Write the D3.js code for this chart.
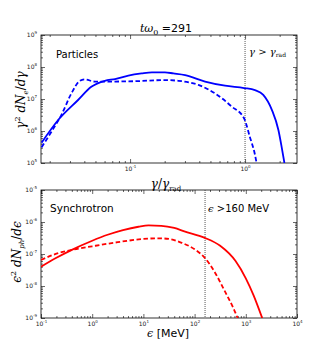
<!DOCTYPE html>
<html>
<head>
<meta charset="utf-8">
<script src="https://cdn.jsdelivr.net/npm/d3@7"></script>
<style>
  body { margin: 0; background: #fff; }
  svg { display: block; }
</style>
</head>
<body>
<svg id="chart" width="330" height="354"></svg>
<script>
// top panel: electron spectra vs gamma/gamma_rad
const gammaSolid = [0.017, 0.0237, 0.0353, 0.046, 0.0603, 0.0741, 0.0966, 0.126, 0.155, 0.201, 0.238, 0.301, 0.449, 0.670, 0.98, 1.22, 1.44, 1.71, 1.95, 2.08, 2.20]
const electronsSolid = [4.3e5, 2.2e6, 9.3e6, 2.4e7, 3.7e7, 4.2e7, 5.4e7, 6.3e7, 6.8e7, 6.8e7, 6.3e7, 5.6e7, 3.5e7, 2.6e7, 2.2e7, 1.9e7, 1.35e7, 4.6e6, 1.07e6, 3.2e5, 1.0e5]
const gammaDashed = [0.017, 0.0207, 0.0253, 0.0309, 0.0366, 0.0404, 0.0493, 0.0568, 0.110, 0.201, 0.263, 0.393, 0.548, 0.766, 0.98, 1.10, 1.22, 1.26]
const electronsDashed = [3.1e5, 9.5e5, 3.2e6, 1.5e7, 3.7e7, 4.1e7, 3.5e7, 3.5e7, 3.6e7, 3.9e7, 3.7e7, 2.75e7, 1.5e7, 5.8e6, 2.5e6, 6.6e5, 1.8e5, 1.0e5]

// bottom panel: synchrotron photon spectra vs energy in MeV
const energySolid = [0.1, 0.2, 0.4, 1, 2, 4, 8, 12.6, 22.4, 40, 63, 158, 316, 631, 1000, 1413, 2090]
const photonsSolid = [4.0e-8, 7.6e-8, 1.35e-7, 2.6e-7, 4.0e-7, 5.6e-7, 7.1e-7, 7.8e-7, 7.6e-7, 6.5e-7, 5.1e-7, 3.2e-7, 1.8e-7, 6.0e-8, 1.74e-8, 5.2e-9, 1.0e-9]
const energyDashed = [0.1, 0.2, 0.4, 1, 3.16, 10, 20, 31.6, 56, 100, 158, 251, 389, 575, 692]
const photonsDashed = [6.5e-8, 1.02e-7, 1.35e-7, 1.74e-7, 2.34e-7, 2.95e-7, 3.1e-7, 2.95e-7, 2.24e-7, 1.41e-7, 7.6e-8, 2.6e-8, 6.9e-9, 2.0e-9, 1.0e-9]

const topXDomain = [0.0168, 2.83]
const topYDomain = [1e5, 1e9]
const botXDomain = [0.1, 1e4]
const botYDomain = [1e-9, 1e-5]
const gammaCut = 1
const energyCut = 160

const svg = d3.select('#chart')
const serif = "'DejaVu Serif', serif"
const sans = "'DejaVu Sans', sans-serif"

const left = 41
const right = 297

// all 1..9 x 10^k values inside a log domain
const logTicks = (domain) => {
  const lo = Math.floor(Math.log10(domain[0]))
  const hi = Math.ceil(Math.log10(domain[1]))
  const major = []
  const minor = []
  for (let k = lo; k <= hi; k++) {
    for (let m = 1; m < 10; m++) {
      const v = m * Math.pow(10, k)
      if (v < domain[0] * 0.999 || v > domain[1] * 1.001) continue
      if (m === 1) major.push(v)
      else minor.push(v)
    }
  }
  return { major, minor }
}

function powLabel (sel, exp) {
  sel.text(null)
  sel.append('tspan').text('10')
  sel.append('tspan')
    .attr('dy', -3)
    .style('font-size', '4px')
    .text(exp)
}

function panel (top, bottom, xDomain, yDomain) {
  const x = d3.scaleLog().domain(xDomain).range([left, right])
  const y = d3.scaleLog().domain(yDomain).range([bottom, top])
  const xt = logTicks(xDomain)
  const yt = logTicks(yDomain)
  const g = svg.append('g')

  const styleTicks = (sel) => {
    sel.select('.domain').remove()
    sel.selectAll('.tick line').style('stroke', '#000').style('stroke-width', 0.6)
  }

  // bottom + top axes, ticks pointing in
  const axB = g.append('g').attr('transform', `translate(0,${bottom})`)
    .call(d3.axisBottom(x).tickValues(xt.major).tickSize(-4).tickPadding(4).tickFormat(d => d))
  axB.call(styleTicks)
  axB.selectAll('.tick text')
    .style('font-family', sans).style('font-size', '6px').style('fill', '#222')
    .each(function (d) { powLabel(d3.select(this), Math.round(Math.log10(d))) })
  g.append('g').attr('transform', `translate(0,${bottom})`)
    .call(d3.axisBottom(x).tickValues(xt.minor).tickSize(-2).tickFormat(''))
    .call(styleTicks)
  g.append('g').attr('transform', `translate(0,${top})`)
    .call(d3.axisTop(x).tickValues(xt.major).tickSize(-4).tickFormat(''))
    .call(styleTicks)
  g.append('g').attr('transform', `translate(0,${top})`)
    .call(d3.axisTop(x).tickValues(xt.minor).tickSize(-2).tickFormat(''))
    .call(styleTicks)

  // left + right axes
  const axL = g.append('g').attr('transform', `translate(${left},0)`)
    .call(d3.axisLeft(y).tickValues(yt.major).tickSize(-4).tickPadding(4).tickFormat(d => d))
  axL.call(styleTicks)
  axL.selectAll('.tick text')
    .style('font-family', sans).style('font-size', '6px').style('fill', '#222')
    .each(function (d) { powLabel(d3.select(this), Math.round(Math.log10(d))) })
  g.append('g').attr('transform', `translate(${left},0)`)
    .call(d3.axisLeft(y).tickValues(yt.minor).tickSize(-2).tickFormat(''))
    .call(styleTicks)
  g.append('g').attr('transform', `translate(${right},0)`)
    .call(d3.axisRight(y).tickValues(yt.major).tickSize(-4).tickFormat(''))
    .call(styleTicks)
  g.append('g').attr('transform', `translate(${right},0)`)
    .call(d3.axisRight(y).tickValues(yt.minor).tickSize(-2).tickFormat(''))
    .call(styleTicks)

  g.append('rect')
    .attr('x', left).attr('y', top)
    .attr('width', right - left).attr('height', bottom - top)
    .style('fill', 'none').style('stroke', '#000').style('stroke-width', 0.8)

  const clipId = 'clip' + top
  svg.append('clipPath').attr('id', clipId)
    .append('rect')
    .attr('x', left).attr('y', top)
    .attr('width', right - left).attr('height', bottom - top)

  return { g, x, y, clipId, top, bottom }
}

function drawLine (p, xs, ys, color, dashed) {
  const line = d3.line()
    .x(d => p.x(d[0]))
    .y(d => p.y(d[1]))
    .curve(d3.curveMonotoneX)
  p.g.append('path')
    .datum(xs.map((v, i) => [v, ys[i]]))
    .attr('clip-path', `url(#${p.clipId})`)
    .attr('d', line)
    .style('fill', 'none')
    .style('stroke', color)
    .style('stroke-width', 1.8)
    .style('stroke-dasharray', dashed ? '4.5,2.5' : null)
}

function cutLine (p, v) {
  p.g.append('line')
    .attr('x1', p.x(v)).attr('x2', p.x(v))
    .attr('y1', p.top).attr('y2', p.bottom)
    .style('stroke', '#444')
    .style('stroke-width', 0.9)
    .style('stroke-dasharray', '1,1')
}

// ---------- top panel ----------
const pTop = panel(35, 163, topXDomain, topYDomain)
cutLine(pTop, gammaCut)
drawLine(pTop, gammaDashed, electronsDashed, '#0000ff', true)
drawLine(pTop, gammaSolid, electronsSolid, '#0000ff', false)

// ---------- bottom panel ----------
const pBot = panel(190, 318, botXDomain, botYDomain)
cutLine(pBot, energyCut)
drawLine(pBot, energyDashed, photonsDashed, '#ff0000', true)
drawLine(pBot, energySolid, photonsSolid, '#ff0000', false)

// ---------- texts ----------
const title = svg.append('text')
  .attr('x', 166).attr('y', 32)
  .attr('text-anchor', 'middle')
  .style('font-size', '11px')
title.append('tspan').style('font-family', serif).style('font-style', 'italic').text('tω')
title.append('tspan').style('font-family', serif).style('font-size', '8px').attr('dy', 3).text('0')
title.append('tspan').style('font-family', sans).attr('dy', -3).text(' =291')

svg.append('text')
  .attr('x', 56).attr('y', 58)
  .style('font-family', sans).style('font-size', '10px')
  .text('Particles')

const gLab = svg.append('text')
  .attr('x', 249).attr('y', 55)
  .style('font-family', serif).style('font-size', '10px')
gLab.append('tspan').style('font-style', 'italic').text('γ')
gLab.append('tspan').text(' > ')
gLab.append('tspan').style('font-style', 'italic').text('γ')
gLab.append('tspan').attr('dy', 2).style('font-size', '6px').text('rad')

svg.append('text')
  .attr('x', 50).attr('y', 212)
  .style('font-family', sans).style('font-size', '10.5px')
  .text('Synchrotron')

const eLab = svg.append('text')
  .attr('x', 208).attr('y', 212)
  .style('font-size', '10px')
eLab.append('tspan').style('font-family', serif).style('font-style', 'italic').text('ϵ')
eLab.append('tspan').style('font-family', sans).text(' >160 MeV')

// x labels
const xTop = svg.append('text')
  .attr('x', 166).attr('y', 188)
  .attr('text-anchor', 'middle')
  .style('font-family', serif).style('font-size', '12px')
xTop.append('tspan').style('font-style', 'italic').text('γ')
xTop.append('tspan').text('/')
xTop.append('tspan').style('font-style', 'italic').text('γ')
xTop.append('tspan').attr('dy', 2.5).style('font-size', '7px').text('rad')

const xBot = svg.append('text')
  .attr('x', 168).attr('y', 337)
  .attr('text-anchor', 'middle')
  .style('font-size', '11px')
xBot.append('tspan').style('font-family', serif).style('font-style', 'italic').text('ϵ')
xBot.append('tspan').style('font-family', sans).text(' [MeV]')

// y labels
const yTop = svg.append('text')
  .attr('transform', 'translate(25,100) rotate(-90)')
  .attr('text-anchor', 'middle')
  .style('font-family', serif).style('font-size', '12px')
yTop.append('tspan').style('font-style', 'italic').text('γ')
yTop.append('tspan').attr('dy', -5).style('font-size', '8px').text('2')
yTop.append('tspan').attr('dy', 5).style('font-style', 'italic').text(' dN')
yTop.append('tspan').attr('dy', 2.5).style('font-size', '7px').style('font-style', 'italic').text('e')
yTop.append('tspan').attr('dy', -2.5).text('/')
yTop.append('tspan').style('font-style', 'italic').text('dγ')

const yBot = svg.append('text')
  .attr('transform', 'translate(21,252) rotate(-90)')
  .attr('text-anchor', 'middle')
  .style('font-family', serif).style('font-size', '12px')
yBot.append('tspan').style('font-style', 'italic').text('ϵ')
yBot.append('tspan').attr('dy', -5).style('font-size', '8px').text('2')
yBot.append('tspan').attr('dy', 5).style('font-style', 'italic').text(' dN')
yBot.append('tspan').attr('dy', 2.5).style('font-size', '7px').style('font-style', 'italic').text('ph')
yBot.append('tspan').attr('dy', -2.5).text('/')
yBot.append('tspan').style('font-style', 'italic').text('dϵ')
</script>
</body>
</html>
